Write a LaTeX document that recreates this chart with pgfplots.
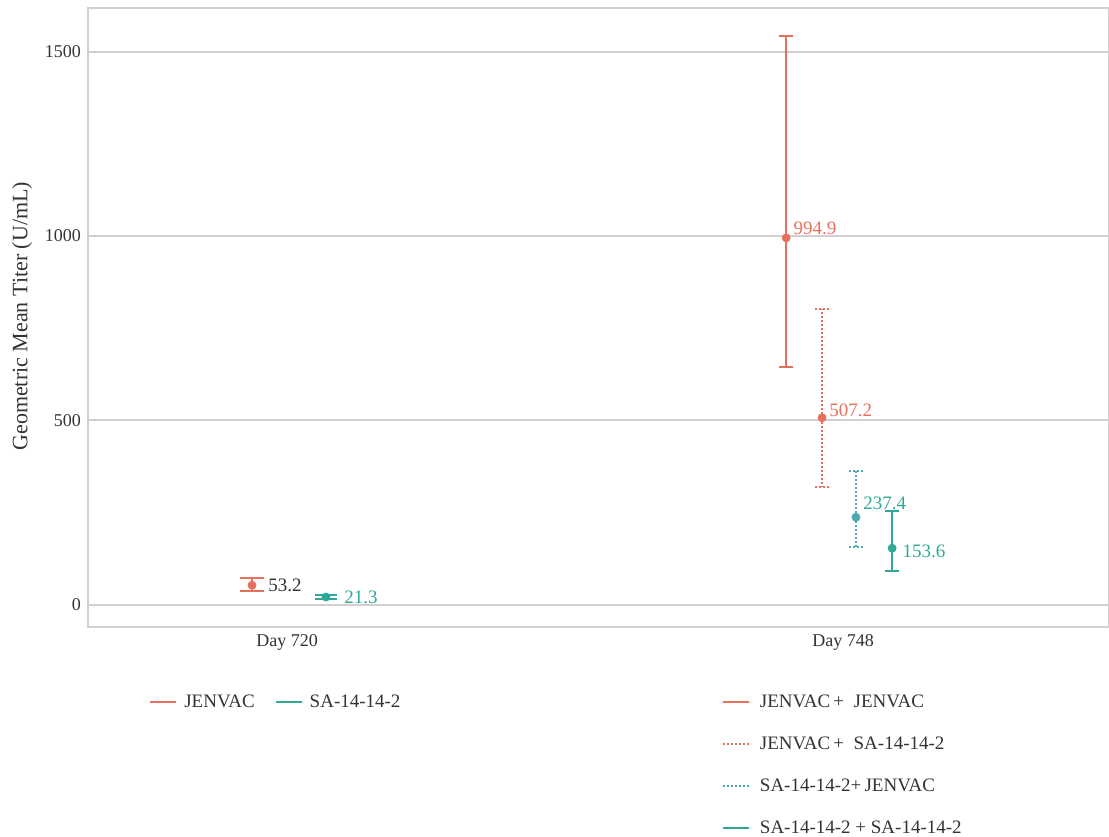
\documentclass[border=0pt]{standalone}
\usepackage{fontspec}
\setmainfont{Liberation Serif}
\usepackage{pgfplots}
\pgfplotsset{compat=1.18}
\definecolor{jred}{HTML}{E76F5E}
\definecolor{steal}{HTML}{30A898}
\definecolor{dteal}{HTML}{4AAAB0}
\definecolor{gridgray}{HTML}{D0D0D0}
\definecolor{txt}{HTML}{333333}
\begin{document}
\begin{tikzpicture}
\useasboundingbox (0,0) rectangle (554.5pt,418pt);
\begin{axis}[
  at={(44pt,104.5pt)}, anchor=south west, scale only axis,
  width=510.5pt, height=309.5pt,
  xmin=-0.358, xmax=1.478, ymin=-60, ymax=1618,
  xtick={0,1}, xticklabels={Day 720, Day 748},
  ytick={0,500,1000,1500},
  ymajorgrids, grid style={color=gridgray, line width=1pt},
  axis line style={color=gridgray, line width=1pt},
  major tick length=0pt,
  tick label style={font=\fontsize{9}{10}\selectfont, text=txt},
  /pgf/number format/assume math mode=true,
  /pgf/number format/1000 sep={},
  ylabel={Geometric Mean Titer (U/mL)},
  ylabel style={at={(axis description cs:-0.0646,0.502)}, anchor=center, font=\fontsize{11}{12}\selectfont, text=txt},
  clip=false,
  legend image code/.code={\draw[#1] (0pt,0pt) -- (13pt,0pt); \path (16pt,0pt);},
  legend style={at={(0.6205,-0.102)}, anchor=north west, draw=none, fill=none,
    font=\fontsize{9.5}{11}\selectfont, text=txt, row sep=9.2pt, inner sep=0pt},
  legend cell align=left,
  point meta=y,
  nodes near coords={\pgfmathprintnumber[fixed,fixed zerofill,precision=1]{\pgfplotspointmeta}},
]
% Day 720
\addplot[forget plot, only marks, mark=*, mark size=2pt, color=jred,
  every node near coord/.append style={anchor=west, inner sep=0pt, xshift=8pt, font=\fontsize{9.5}{11}\selectfont, text=txt},
  error bars/.cd, y dir=both, y explicit,
  error bar style={line width=1pt},
  error mark options={rotate=90, mark size=6pt, line width=1pt}]
  coordinates {(-0.063,53.2) += (0,19) -= (0,16)};
\addplot[forget plot, only marks, mark=*, mark size=2pt, color=steal,
  every node near coord/.append style={anchor=west, inner sep=0pt, xshift=9pt, font=\fontsize{9.5}{11}\selectfont, text=steal},
  error bars/.cd, y dir=both, y explicit,
  error bar style={line width=1pt},
  error mark options={rotate=90, mark size=5.5pt, line width=1pt}]
  coordinates {(0.070,21.3) += (0,6) -= (0,5)};
% Day 748
\addplot[forget plot, only marks, mark=*, mark size=2pt, color=jred,
  every node near coord/.append style={anchor=west, inner sep=0pt, xshift=3.5pt, yshift=5pt, font=\fontsize{9.5}{11}\selectfont, text=jred},
  error bars/.cd, y dir=both, y explicit,
  error bar style={line width=1pt},
  error mark options={rotate=90, mark size=3.5pt, line width=1pt}]
  coordinates {(0.8975,994.9) += (0,547) -= (0,350)};
\addplot[forget plot, only marks, mark=*, mark size=2pt, color=jred,
  every node near coord/.append style={anchor=west, inner sep=0pt, xshift=3.5pt, yshift=3.5pt, font=\fontsize{9.5}{11}\selectfont, text=jred},
  error bars/.cd, y dir=both, y explicit,
  error bar style={line width=1pt, dash pattern=on 1pt off 1pt},
  error mark options={rotate=90, mark size=3.5pt, line width=1pt, dash pattern=on 1pt off 1pt}]
  coordinates {(0.962,507.2) += (0,295) -= (0,187)};
\addplot[forget plot, only marks, mark=*, mark size=2pt, color=dteal,
  every node near coord/.append style={anchor=west, inner sep=0pt, xshift=3.5pt, yshift=7pt, font=\fontsize{9.5}{11}\selectfont, text=steal},
  error bars/.cd, y dir=both, y explicit,
  error bar style={line width=1pt, dash pattern=on 1pt off 1pt},
  error mark options={rotate=90, mark size=3.5pt, line width=1pt, dash pattern=on 1pt off 1pt}]
  coordinates {(1.023,237.4) += (0,126) -= (0,80)};
\addplot[forget plot, only marks, mark=*, mark size=2pt, color=steal,
  every node near coord/.append style={anchor=west, inner sep=0pt, xshift=5pt, yshift=-1.5pt, font=\fontsize{9.5}{11}\selectfont, text=steal},
  error bars/.cd, y dir=both, y explicit,
  error bar style={line width=1pt},
  error mark options={rotate=90, mark size=3.5pt, line width=1pt}]
  coordinates {(1.088,153.6) += (0,101) -= (0,62)};
\addlegendimage{color=jred, line width=1pt}
\addlegendimage{color=jred, line width=1pt, dash pattern=on 1pt off 1pt}
\addlegendimage{color=dteal, line width=1pt, dash pattern=on 1pt off 1pt}
\addlegendimage{color=steal, line width=1pt}
\legend{JENVAC\,+\ \ JENVAC, JENVAC\,+\ \ SA-14-14-2, SA-14-14-2+\,JENVAC, SA-14-14-2 + SA-14-14-2}
\end{axis}
\begin{axis}[
  at={(44pt,104.5pt)}, anchor=south west, scale only axis,
  width=510.5pt, height=309.5pt,
  xmin=0, xmax=1, ymin=0, ymax=1, hide axis,
  legend image code/.code={\draw[#1] (0pt,0pt) -- (13pt,0pt); \path (14.5pt,0pt);},
  legend style={at={(0.0597,-0.102)}, anchor=north west, draw=none, fill=none,
    font=\fontsize{9.5}{11}\selectfont, text=txt, inner sep=0pt,
    /tikz/every even column/.append style={column sep=8pt}},
  legend columns=2,
]
\addlegendimage{color=jred, line width=1pt}
\addlegendimage{color=steal, line width=1pt}
\legend{JENVAC, SA-14-14-2}
\end{axis}
\end{tikzpicture}
\end{document}
